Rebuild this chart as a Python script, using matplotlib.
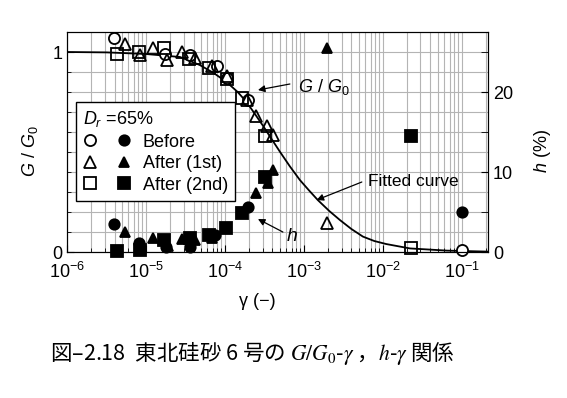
import matplotlib
matplotlib.use('Agg')
import matplotlib.pyplot as plt
from matplotlib.ticker import FixedLocator, NullFormatter, LogLocator
from matplotlib.legend_handler import HandlerTuple

plt.rcParams['font.family'] = ['Liberation Sans', 'Noto Sans CJK JP', 'DejaVu Sans']
plt.rcParams['mathtext.fontset'] = 'custom'
plt.rcParams['mathtext.rm'] = 'Liberation Sans'
plt.rcParams['mathtext.it'] = 'Liberation Sans:italic'
plt.rcParams['mathtext.bf'] = 'Liberation Sans:bold'

# G/G0 data (open symbols)
gamma_before_G = [3.9e-6, 1.75e-5, 3.6e-5, 7.9e-5, 1.05e-4, 1.95e-4, 0.1]
G_before = [1.07, 0.99, 0.985, 0.93, 0.87, 0.76, 0.01]
gamma_1st_G = [5.4e-6, 8.4e-6, 1.22e-5, 1.86e-5, 2.83e-5, 4.2e-5, 6.8e-5,
               1.07e-4, 1.9e-4, 2.47e-4, 3.43e-4, 4.1e-4, 1.97e-3]
G_1st = [1.04, 0.985, 1.02, 0.96, 1.0, 0.97, 0.93, 0.88, 0.76, 0.68, 0.63, 0.585, 0.143]
gamma_2nd_G = [4.26e-6, 8.2e-6, 1.69e-5, 3.5e-5, 6.3e-5, 1.05e-4, 1.66e-4, 3.2e-4, 0.0226]
G_2nd = [0.99, 1.0, 1.02, 0.965, 0.92, 0.865, 0.77, 0.58, 0.02]

# damping ratio h (%) data (filled symbols)
gamma_before_h = [3.9e-6, 8.2e-6, 1.8e-5, 3.6e-5, 7.4e-5, 1.94e-4, 0.1]
h_before = [3.46, 1.16, 0.66, 0.66, 2.1, 5.67, 5.04]
gamma_1st_h = [5.4e-6, 8.4e-6, 1.22e-5, 1.9e-5, 2.83e-5, 4.2e-5, 6.8e-5,
               2.5e-4, 3.53e-4, 4.1e-4, 1.97e-3]
h_1st = [2.54, 0.75, 1.7, 0.75, 1.58, 1.5, 1.7, 7.33, 8.58, 10.2, 25.5]
gamma_2nd_h = [4.3e-6, 8.4e-6, 1.69e-5, 3.6e-5, 6.3e-5, 1.02e-4, 1.66e-4, 3.2e-4, 0.0226]
h_2nd = [0.17, 0.25, 1.5, 1.7, 2.1, 2.96, 4.83, 9.4, 14.5]

# fitted curve
gamma_fit = [1e-6, 3.2e-6, 1e-5, 2.7e-5, 4.8e-5, 7.2e-5, 1.05e-4, 1.45e-4, 1.88e-4,
             2.4e-4, 3.05e-4, 3.9e-4, 5.0e-4, 6.6e-4, 8.9e-4, 1.15e-3, 1.5e-3, 2.1e-3,
             2.86e-3, 4.0e-3, 5.6e-3, 7.8e-3, 1.1e-2, 2.2e-2, 6.5e-2, 0.215]
G_fit = [1.0, 0.998, 0.99, 0.975, 0.935, 0.895, 0.85, 0.8, 0.75,
         0.69, 0.63, 0.565, 0.5, 0.43, 0.36, 0.31, 0.26, 0.205,
         0.16, 0.115, 0.077, 0.055, 0.04, 0.018, 0.007, 0.002]

fig = plt.figure(figsize=(5.67, 3.98), dpi=100)
ax = fig.add_axes([0.1182, 0.3668, 0.7425, 0.5528])
ax2 = ax.twinx()

ax.set_xscale('log')
ax.set_xlim(1e-6, 0.215)
ax.set_ylim(0, 1.1)
ax2.set_ylim(0, 27.5)

# grid
ax.xaxis.set_minor_locator(LogLocator(base=10, subs=range(2, 10)))
ax.xaxis.set_minor_formatter(NullFormatter())
ax.yaxis.set_major_locator(FixedLocator([0, 1]))
ax.yaxis.set_minor_locator(FixedLocator([i / 10 for i in range(1, 11)]))
ax.grid(True, which='both', color='#b4b4b4', lw=0.8)
ax.set_axisbelow(True)

ax.tick_params(which='both', direction='in', labelsize=13, top=False, right=False)
ax.tick_params(which='major', length=5)
ax.tick_params(which='minor', length=3)
ax.tick_params(axis='x', pad=7)
ax2.yaxis.set_major_locator(FixedLocator([0, 10, 20]))
ax2.yaxis.set_minor_locator(FixedLocator([5, 15, 25]))
ax2.tick_params(which='both', direction='in', labelsize=13, length=5)

# fitted curve
ax.plot(gamma_fit, G_fit, color='k', lw=1.3)

mk = dict(ls='none', mec='k', mew=1.3, clip_on=False)
oc, = ax.plot(gamma_before_G, G_before, marker='o', ms=8, mfc='white', **mk)
ot, = ax.plot(gamma_1st_G, G_1st, marker='^', ms=8.5, mfc='none', **mk)
os_, = ax.plot(gamma_2nd_G, G_2nd, marker='s', ms=8.5, mfc='none', **mk)

fc, = ax2.plot(gamma_before_h, h_before, marker='o', ms=7.5, mfc='k', **mk)
ft, = ax2.plot(gamma_1st_h, h_1st, marker='^', ms=7.5, mfc='k', **mk)
fs, = ax2.plot(gamma_2nd_h, h_2nd, marker='s', ms=8, mfc='k', **mk)

leg = ax2.legend([(oc, fc), (ot, ft), (os_, fs)], ['Before', 'After (1st)', 'After (2nd)'],
                 handler_map={tuple: HandlerTuple(ndivide=None, pad=1.2)},
                 title='$D_r$ =65%', title_fontsize=13, fontsize=13, alignment='left',
                 loc='upper left', bbox_to_anchor=(0.0214, 0.682),
                 frameon=True, fancybox=False, edgecolor='k', framealpha=1,
                 handlelength=2.6, handletextpad=0.7, labelspacing=0.25,
                 borderpad=0.4, borderaxespad=0)
leg.get_frame().set_linewidth(1.0)

# annotations
arrow = dict(arrowstyle='-|>', color='k', lw=0.9, mutation_scale=10, shrinkA=0, shrinkB=0)
ax.annotate('', xy=(2.62e-4, 0.81), xytext=(6.65e-4, 0.84), arrowprops=arrow)
ax.text(8.4e-4, 0.825, '$G$ / $G_0$', fontsize=13, va='center', ha='left')
ax.annotate('', xy=(1.45e-3, 0.26), xytext=(5.42e-3, 0.35), arrowprops=arrow)
ax.text(6.45e-3, 0.355, 'Fitted curve', fontsize=12.5, va='center', ha='left')
ax.annotate('', xy=(2.62e-4, 0.165), xytext=(5.42e-4, 0.1), arrowprops=arrow)
ax.text(5.9e-4, 0.08, '$h$', fontsize=14, va='center', ha='left')

ax.set_xlabel('γ (−)', fontsize=13)
ax.xaxis.set_label_coords(0.451, -0.185)
ax.set_ylabel('$G$ / $G_0$', fontsize=13)
ax.yaxis.set_label_coords(-0.064, 0.46)
ax2.set_ylabel('$h$ (%)', fontsize=13, rotation=90)
ax2.yaxis.set_label_coords(1.105, 0.46)

fig.text(0.445, 0.113, '図–2.18  東北硅砂 6 号の $G/G_0$-$\\gamma$ ，$h$-$\\gamma$ 関係',
         fontsize=15.5, ha='center', va='center', family=['Noto Sans CJK JP'],
         math_fontfamily='stix')

fig.savefig('out.png', dpi=100)
